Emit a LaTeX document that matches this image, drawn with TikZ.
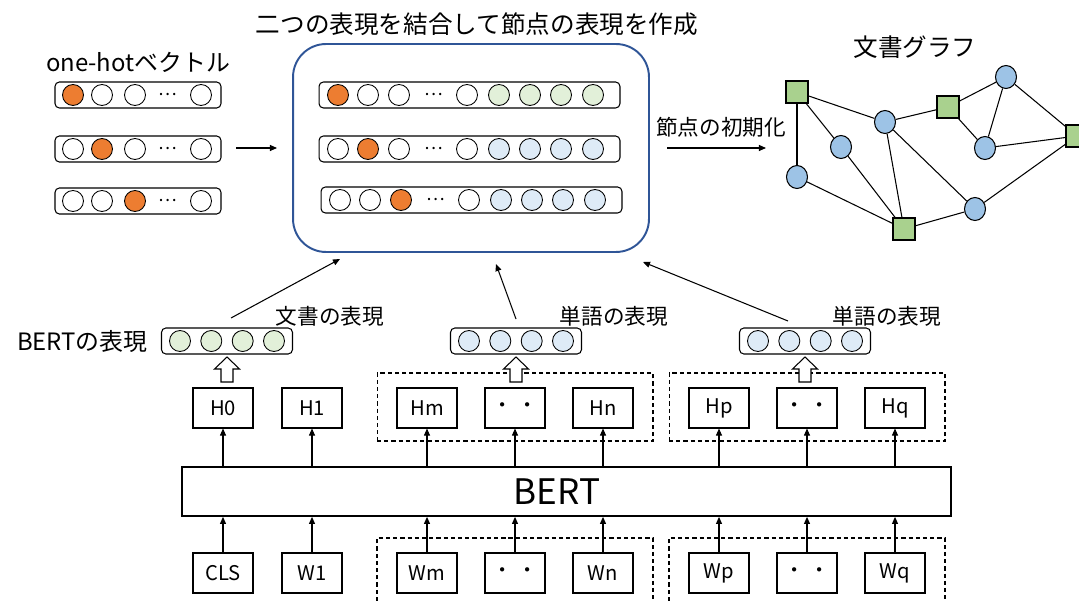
\documentclass[tikz,border=0pt]{standalone}
\usepackage{fontspec}
\setmainfont{Noto Sans CJK JP}
\usetikzlibrary{arrows.meta,shapes.geometric}
\definecolor{orng}{HTML}{ED7D31}
\definecolor{lgreen}{HTML}{E2F0D9}
\definecolor{lblue}{HTML}{DEEBF7}
\definecolor{ggreen}{HTML}{A9D18E}
\definecolor{gblue}{HTML}{9DC3E6}
\definecolor{frameblue}{HTML}{2F5597}
\begin{document}
\begin{tikzpicture}[x=0.02cm,y=-0.02cm,
  vbox/.style={draw, rounded corners=2.5pt, line width=0.6pt, inner sep=0, minimum height=0.52cm},
  cdot/.style={circle, draw, line width=0.5pt, inner sep=0, minimum size=0.42cm},
  wfill/.style={cdot, fill=white},
  ofill/.style={cdot, fill=orng},
  gfill/.style={cdot, fill=lgreen},
  bfill/.style={cdot, fill=lblue},
  ell/.style={inner sep=0, font=\fontsize{10}{10}\selectfont},
  lbl/.style={inner sep=0, font=\fontsize{13.6}{16}\selectfont},
  bigl/.style={inner sep=0, font=\fontsize{14}{16}\selectfont},
  sml/.style={inner sep=0, font=\fontsize{12.3}{14}\selectfont},
  hbox/.style={draw, line width=0.6pt, minimum width=1.2cm, minimum height=0.8cm, inner sep=0, font=\fontsize{11.5}{13}\selectfont},
  dbox/.style={draw, dashed, dash pattern=on 2.4pt off 1.7pt, line width=0.6pt, inner sep=0},
  arr/.style={-{Triangle[length=4pt,width=3.4pt]}, line width=0.6pt},
  gsq/.style={draw, fill=ggreen, line width=0.6pt, minimum size=0.44cm, inner sep=0},
  gci/.style={draw, fill=gblue, ellipse, line width=0.6pt, minimum width=0.42cm, minimum height=0.46cm, inner sep=0},
  gedge/.style={line width=0.6pt},
  hollow/.style={draw, fill=white, line width=0.6pt}
]
\useasboundingbox (0,0) rectangle (1079,601);

% ---------- one-hot vectors ----------
\node[lbl] (onehot) at (138,62) {one-hotベクトル};
\foreach \r/\y in {1/95,2/149,3/201}{
  \node[vbox, minimum width=3.32cm] (oh\r) at (138,\y) {};
  \foreach \k/\x in {1/73,2/102,3/135,4/201}{
    \ifnum\k=\r
      \node[ofill] (oh\r c\k) at (\x,\y) {};
    \else
      \node[wfill] (oh\r c\k) at (\x,\y) {};
    \fi
  }
  \node[ell] (oh\r d) at (168,\y) {…};
}
\coordinate (ohA) at (236,148);
\coordinate (ohB) at (277,148);
\draw[arr] (ohA) -- (ohB);

% ---------- central combined box ----------
\node[bigl] (title) at (477,24) {二つの表現を結合して節点の表現を作成};
\node[draw=frameblue, line width=1.1pt, rounded corners=0.66cm, minimum width=7.12cm, minimum height=4.16cm, inner sep=0] (frame) at (471,148) {};
\foreach \r/\y/\s in {1/95/0,2/149/0,3/200/2}{
  \node[vbox, minimum width=6.02cm] (cv\r) at (469.5+\s,\y) {};
  \foreach \k/\x in {1/338,2/368,3/399,4/467}{
    \ifnum\k=\r
      \node[ofill] (cv\r c\k) at (\x+\s,\y) {};
    \else
      \node[wfill] (cv\r c\k) at (\x+\s,\y) {};
    \fi
  }
  \node[ell] (cv\r d) at (434+\s,\y) {…};
  \foreach \k/\x in {5/499,6/530,7/561,8/593}{
    \ifnum\r=1
      \node[gfill] (cv\r c\k) at (\x+\s,\y) {};
    \else
      \node[bfill] (cv\r c\k) at (\x+\s,\y) {};
    \fi
  }
}

% ---------- graph ----------
\node[bigl] (gtitle) at (915,47) {文書グラフ};
\node[sml] (init) at (721,127) {節点の初期化};
\coordinate (gA) at (667,148);
\coordinate (gB) at (766,148);
\draw[arr] (gA) -- (gB);

\node[gci] (c1) at (885,122) {};
\node[gci] (c2) at (1006,77) {};
\node[gci] (c3) at (841,147) {};
\node[gci] (c4) at (985,148) {};
\node[gci] (c5) at (797,177) {};
\node[gci] (c6) at (975,209) {};
\node[gsq] (s1) at (797,92) {};
\node[gsq] (s2) at (948,107) {};
\node[gsq] (s3) at (1077,136) {};
\node[gsq] (s4) at (904,229) {};
\draw[gedge] (s1) -- (c1);
\draw[gedge] (s1) -- (c3);
\draw[gedge] (s1) -- (c5);
\draw[gedge] (c1) -- (s2);
\draw[gedge] (c1) -- (s4);
\draw[gedge] (c1) -- (c6);
\draw[gedge] (s2) -- (c2);
\draw[gedge] (s2) -- (c4);
\draw[gedge] (c2) -- (c4);
\draw[gedge] (c2) -- (s3);
\draw[gedge] (c4) -- (s3);
\draw[gedge] (c3) -- (s4);
\draw[gedge] (c5) -- (s4);
\draw[gedge] (s4) -- (c6);
\draw[gedge] (c6) -- (s3);

% ---------- dashed groups ----------
\node[dbox, minimum width=5.52cm, minimum height=1.36cm] (dh1) at (515,407) {};
\node[dbox, minimum width=5.52cm, minimum height=1.36cm] (dh2) at (807,407) {};
\draw[dashed, dash pattern=on 2.4pt off 1.7pt, line width=0.6pt] (377,601) -- (377,538) -- (653,538) -- (653,601);
\draw[dashed, dash pattern=on 2.4pt off 1.7pt, line width=0.6pt] (669,601) -- (669,538) -- (945,538) -- (945,601);

% ---------- lower vectors ----------
\node[lbl, anchor=east] (bertrep) at (148,341) {BERTの表現};
\node[sml] (docrep) at (330,316) {文書の表現};
\node[sml] (wrep1) at (614,316) {単語の表現};
\node[sml] (wrep2) at (887,316) {単語の表現};
\foreach \v/\cx/\st in {1/227/gfill,2/516/bfill,3/805/bfill}{
  \node[vbox, minimum width=2.62cm] (lv\v) at (\cx,341) {};
  \foreach \k/\o in {1/-47,2/-15.7,3/15.7,4/47}{
    \node[\st] (lv\v c\k) at (\cx+\o,341) {};
  }
  \draw[hollow] (\cx,357) -- (\cx+12.5,369) -- (\cx+6,369) -- (\cx+6,382) -- (\cx-6,382) -- (\cx-6,369) -- (\cx-12.5,369) -- cycle;
}

% ---------- slanted arrows ----------
\coordinate (a1s) at (231,318); \coordinate (a1e) at (340,259);
\coordinate (a2s) at (516,319); \coordinate (a2e) at (496,264);
\coordinate (a3s) at (788,321); \coordinate (a3e) at (643,262);
\draw[arr] (a1s) -- (a1e);
\draw[arr] (a2s) -- (a2e);
\draw[arr] (a3s) -- (a3e);

% ---------- BERT ----------
\node[draw, line width=1pt, minimum width=15.38cm, minimum height=0.98cm, inner sep=0] (bert) at (566.5,491.5) {};
\node[inner sep=0, font=\fontsize{20}{22}\selectfont] (bertlbl) at (557,492) {BERT};

\foreach \n/\x/\t in {h0/223/H0,h1/312/H1,hm/427/Hm,hd/515/・ ・,hn/603/Hn,hp/719/Hp,hd2/807/・ ・,hq/895/Hq}{
  \node[hbox, fill=white] (\n) at (\x,408) {\t};
  \draw[arr] (bert.north -| \n) -- (\n.south);
}
\foreach \n/\x/\t in {w0/223/CLS,w1/312/W1,wm/427/Wm,wd/515/・ ・,wn/603/Wn,wp/719/Wp,wd2/807/・ ・,wq/895/Wq}{
  \node[hbox, fill=white] (\n) at (\x,573) {\t};
  \draw[arr] (\n.north) -- (\n.north |- bert.south);
}
\end{tikzpicture}
\end{document}
